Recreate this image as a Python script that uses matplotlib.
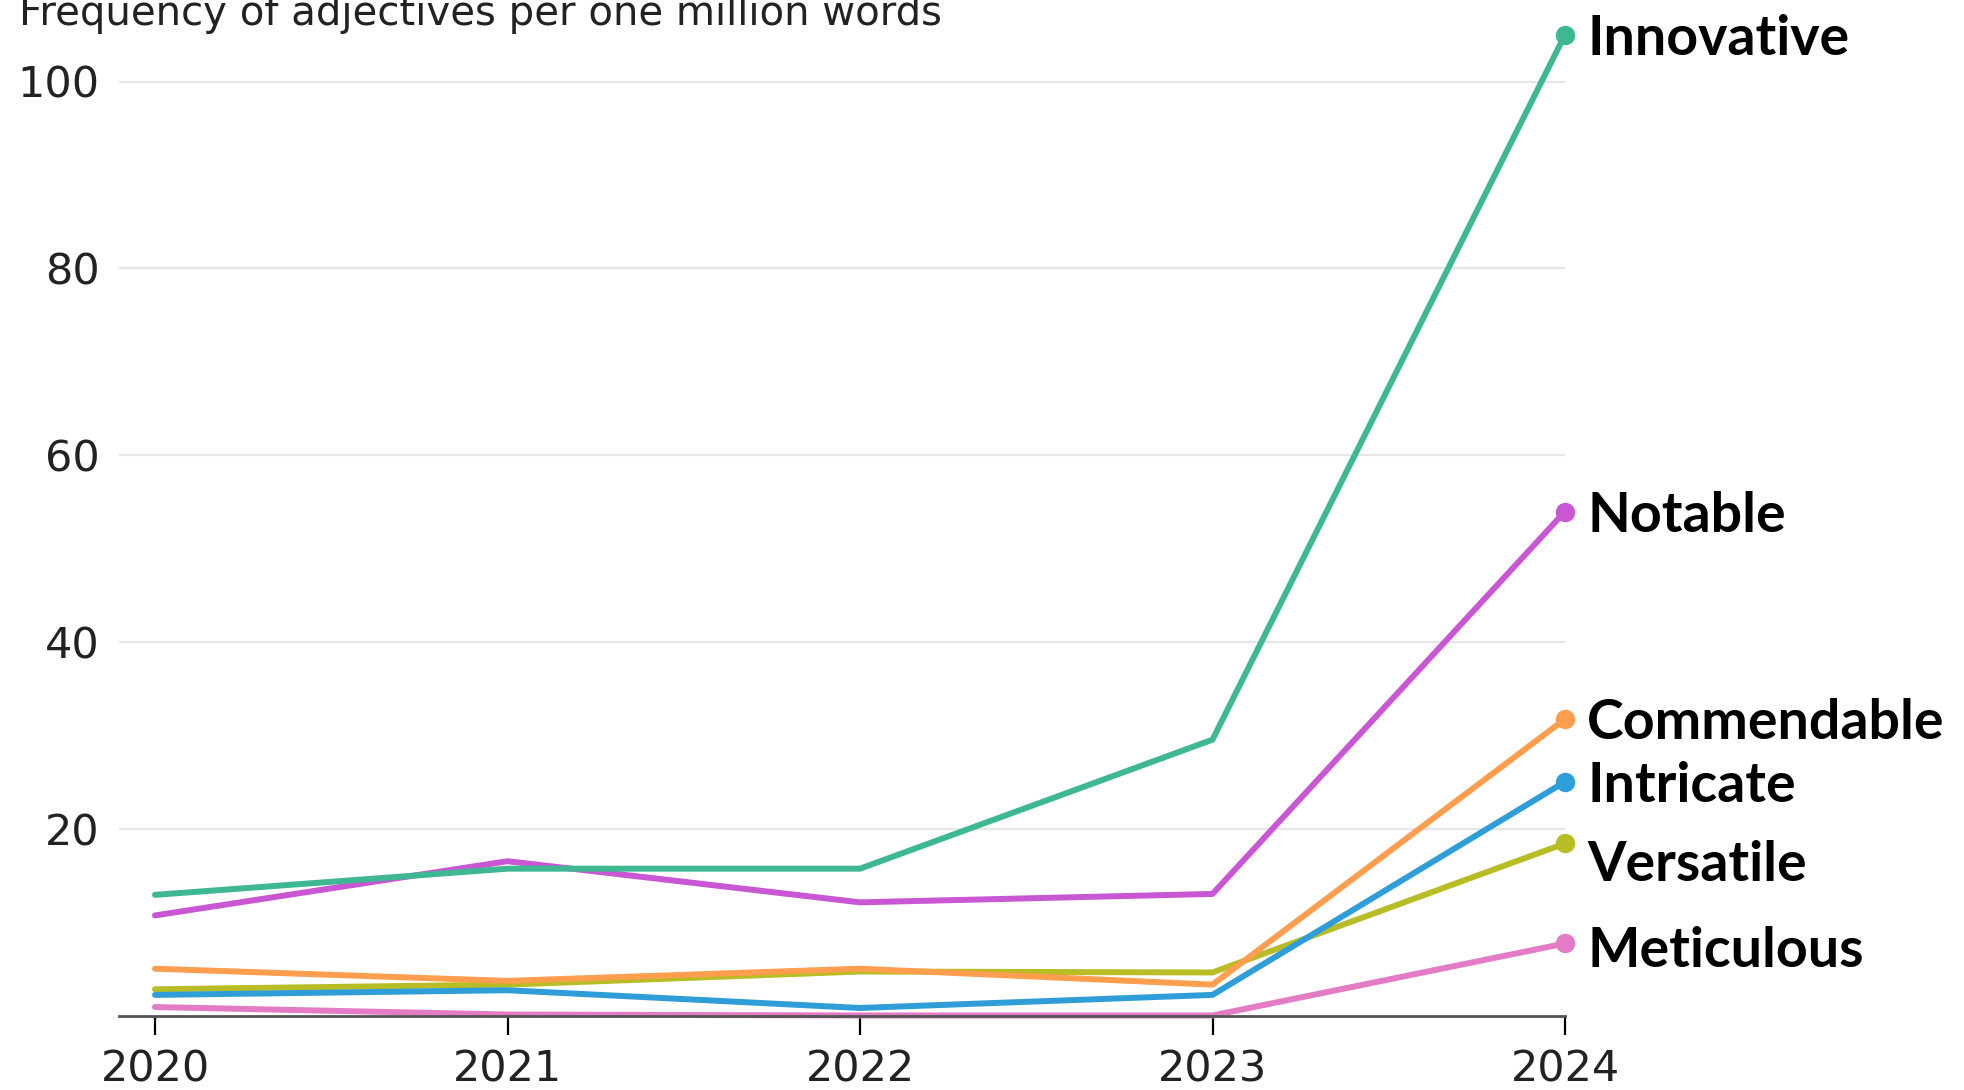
"""Line chart: frequency of adjectives per one million words, 2020-2024."""

import matplotlib
matplotlib.use("Agg")
import matplotlib.pyplot as plt


YEARS = [2020, 2021, 2022, 2023, 2024]

INNOVATIVE = [13.0, 15.8, 15.8, 29.6, 105.0]
NOTABLE = [10.8, 16.6, 12.2, 13.1, 54.0]
COMMENDABLE = [5.1, 3.8, 5.1, 3.4, 31.8]
INTRICATE = [2.3, 2.8, 0.9, 2.3, 25.1]
VERSATILE = [2.9, 3.4, 4.8, 4.7, 18.5]
METICULOUS = [1.0, 0.2, 0.1, 0.1, 7.8]

SERIES_NAMES = ["Meticulous", "Versatile", "Intricate", "Commendable", "Notable", "Innovative"]
SERIES_VALUES = [METICULOUS, VERSATILE, INTRICATE, COMMENDABLE, NOTABLE, INNOVATIVE]
SERIES_COLORS = ["#e47cc5", "#b9bd25", "#2f9ed8", "#ff9e4e", "#c956d3", "#3db893"]

# small vertical nudges (data units) so end labels don't collide
LABEL_NUDGE = {"Versatile": -1.9, "Meticulous": -0.4}

Y_TICKS = [20, 40, 60, 80, 100]
TITLE = "Frequency of adjectives per one million words"

W, H = 1965, 1090
DPI = 100


def main():
    fig = plt.figure(figsize=(W / DPI, H / DPI), dpi=DPI)
    # axes box in pixels: x 119..1565, y 0..1016
    left, right, bottom = 119, 1565, 1016.4
    ax = fig.add_axes([left / W, (H - bottom) / H, (right - left) / W, bottom / H])

    px_per_year = (1565 - 155) / 4
    ax.set_xlim(2020 - (155 - left) / px_per_year, 2024)
    ax.set_ylim(0, bottom / 9.349)

    for name, vals, col in zip(SERIES_NAMES, SERIES_VALUES, SERIES_COLORS):
        ax.plot(YEARS, vals, color=col, lw=4.3, solid_capstyle="round",
                solid_joinstyle="round", clip_on=False, zorder=3)
        ax.plot(YEARS[-1], vals[-1], "o", color=col, ms=13, clip_on=False, zorder=4)
        ax.annotate(name, (YEARS[-1], vals[-1] + LABEL_NUDGE.get(name, 0)),
                    xytext=(16, -3), textcoords="offset points", va="center", ha="left",
                    fontsize=40, fontweight="bold", family=["Lato", "DejaVu Sans"],
                    color="black", annotation_clip=False)

    # grid and axes
    for y in Y_TICKS:
        ax.axhline(y, color="#e6e6e6", lw=1.6, zorder=1)
    for s in ["top", "right", "left"]:
        ax.spines[s].set_visible(False)
    ax.spines["bottom"].set_color("#555555")
    ax.spines["bottom"].set_linewidth(2)
    ax.spines["bottom"].set_zorder(5)

    ax.set_xticks(YEARS)
    ax.set_xticklabels([str(y) for y in YEARS])
    ax.tick_params(axis="x", length=14, width=1.6, color="black", pad=9,
                   labelsize=31, labelcolor="#222222")
    ax.set_yticks(Y_TICKS)
    ax.set_yticklabels([str(y) for y in Y_TICKS])
    ax.tick_params(axis="y", length=0, pad=14, labelsize=31, labelcolor="#222222")

    fig.text(19 / W, 1 - 25 / H, TITLE, ha="left", va="baseline", fontsize=29,
             family=["Liberation Sans Narrow", "DejaVu Sans"], color="#222222")

    fig.savefig("out.png", dpi=DPI, facecolor="white")


if __name__ == "__main__":
    main()
